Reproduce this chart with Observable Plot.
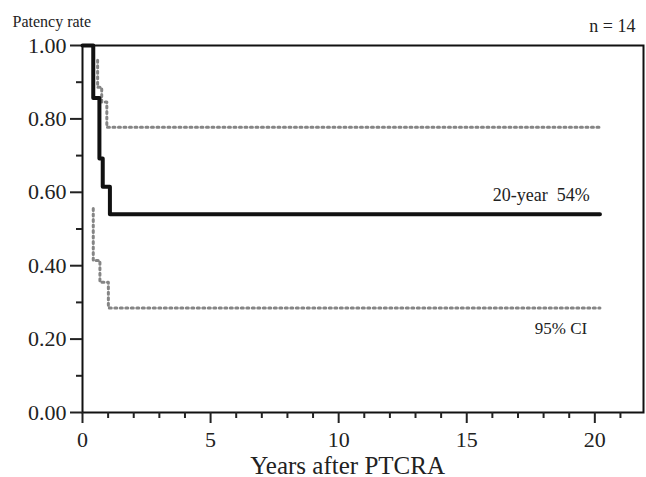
<!DOCTYPE html>
<html>
<head>
<meta charset="utf-8">
<script src="https://cdn.jsdelivr.net/npm/d3@7"></script>
<script src="https://cdn.jsdelivr.net/npm/@observablehq/plot@0.6"></script>
<style>
  html, body { margin: 0; padding: 0; background: #fff; }
  #chart svg { display: block; font-family: "Liberation Serif", "DejaVu Serif", serif; }
</style>
</head>
<body>
<div id="chart"></div>
<script>
// Kaplan–Meier estimate (patency rate) after PTCRA, n = 14
const kmYears = [0, 0.42, 0.66, 0.79, 1.07, 20.2];
const kmRate  = [1.00, 0.857, 0.692, 0.615, 0.54, 0.54];

// 95% confidence interval, upper bound
const upperYears = [0.59, 0.59, 0.75, 0.95, 20.2];
const upperRate  = [0.96, 0.886, 0.846, 0.777, 0.777];

// 95% confidence interval, lower bound
const lowerYears = [0.42, 0.42, 0.68, 1.01, 20.2];
const lowerRate  = [0.556, 0.414, 0.355, 0.285, 0.285];

const yTicks = [0, 0.2, 0.4, 0.6, 0.8, 1.0];
const yMinor = [0.1, 0.3, 0.5, 0.7, 0.9];
const xTicks = [0, 5, 10, 15, 20];
const xMinor = [1, 2, 3, 4, 6, 7, 8, 9, 11, 12, 13, 14, 16, 17, 18, 19, 21];

const yLabel = "Patency rate";
const xLabel = "Years after PTCRA";
const nLabel = "n = 14";
const finalLabel = "20-year  54%";
const ciLabel = "95% CI";

const km = kmYears.map((t, i) => ({t, v: kmRate[i]}));
const upper = upperYears.map((t, i) => ({t, v: upperRate[i]}));
const lower = lowerYears.map((t, i) => ({t, v: lowerRate[i]}));

const ciStyle = {x: "t", y: "v", curve: "step-after", stroke: "#858585", strokeWidth: 3, strokeDasharray: "2,3.5"};

const chart = Plot.plot({
  width: 646,
  height: 477,
  marginLeft: 82,
  marginRight: 3,
  marginTop: 45,
  marginBottom: 65,
  style: {fontFamily: "Liberation Serif, serif", background: "#fff", color: "#222"},
  x: {domain: [0, 21.9]},
  y: {domain: [0, 1]},
  marks: [
    Plot.frame({stroke: "#111", strokeWidth: 2}),
    Plot.axisY(yTicks, {tickSize: 12, tickPadding: 4, tickFormat: d3.format(".2f"), fontSize: 22, strokeWidth: 2, label: null}),
    Plot.axisY(yMinor, {tickSize: 6, text: null, strokeWidth: 2, label: null}),
    Plot.axisX(xTicks, {tickSize: 11, tickPadding: 8, fontSize: 22, strokeWidth: 2, label: null}),
    Plot.axisX(xMinor, {tickSize: 6, text: null, strokeWidth: 2, label: null}),
    Plot.line(upper, ciStyle),
    Plot.line(lower, ciStyle),
    Plot.line(km, {x: "t", y: "v", curve: "step-after", stroke: "#111", strokeWidth: 4}),
    Plot.text([yLabel], {frameAnchor: "top-left", dx: -70, dy: -30, textAnchor: "start", fontSize: 16, fill: "#222"}),
    Plot.text([nLabel], {frameAnchor: "top-right", dx: -8, dy: -26, textAnchor: "end", fontSize: 18, fill: "#222"}),
    Plot.text([finalLabel], {x: 19.8, y: 0.54, dy: -19, textAnchor: "end", fontSize: 18, fill: "#222"}),
    Plot.text([ciLabel], {x: 19.7, y: 0.285, dy: 21, textAnchor: "end", fontSize: 17, fill: "#222"}),
    Plot.text([xLabel], {x: 10.35, frameAnchor: "bottom", dy: 61, fontSize: 25, fill: "#222"})
  ]
});
document.getElementById("chart").appendChild(chart);
</script>
</body>
</html>
